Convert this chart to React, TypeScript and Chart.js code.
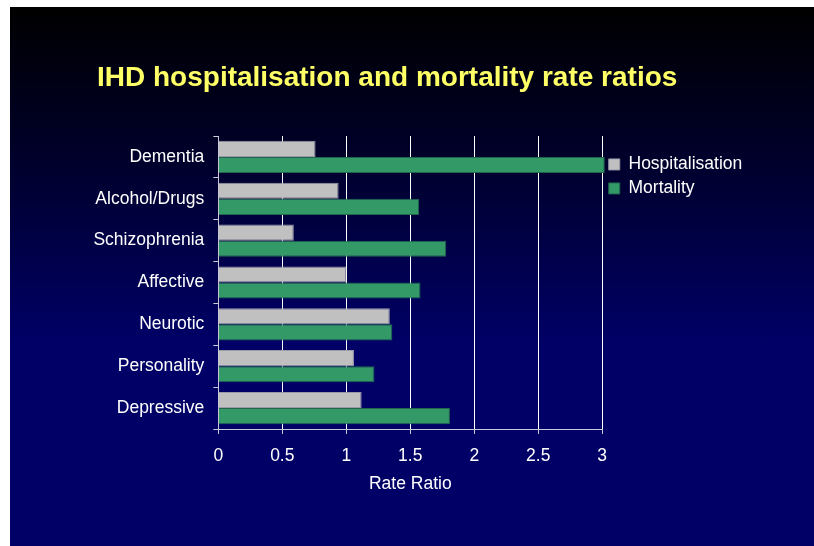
import React, { useEffect, useRef } from "react";
import { Chart, registerables } from "chart.js";

Chart.register(...registerables);

const TITLE = "IHD hospitalisation and mortality rate ratios";
const categories = [
  "Dementia",
  "Alcohol/Drugs",
  "Schizophrenia",
  "Affective",
  "Neurotic",
  "Personality",
  "Depressive",
];
const hospitalisation = [0.76, 0.94, 0.59, 1.0, 1.34, 1.06, 1.12];
const mortality = [3.02, 1.57, 1.78, 1.58, 1.36, 1.22, 1.81];
const xTicks = [0, 0.5, 1, 1.5, 2, 2.5, 3];
const xTitle = "Rate Ratio";

const FONT = "'Liberation Sans', Arial, Helvetica, sans-serif";
const FS = 17.5;

export default function App() {
  const ref = useRef<HTMLCanvasElement | null>(null);

  useEffect(() => {
    if (!ref.current) return;
    const chart = new Chart(ref.current, {
      type: "bar",
      data: {
        labels: categories,
        datasets: [
          {
            label: "Hospitalisation",
            data: hospitalisation,
            backgroundColor: "#C0C0C0",
            borderColor: "#9a9aaa",
            borderWidth: 1,
            categoryPercentage: 0.77,
            barPercentage: 1.0,
            clip: false,
          },
          {
            label: "Mortality",
            data: mortality,
            backgroundColor: "#339966",
            borderColor: "#22664f",
            borderWidth: 1,
            categoryPercentage: 0.77,
            barPercentage: 1.0,
            clip: false,
          },
        ],
      },
      options: {
        indexAxis: "y",
        responsive: false,
        animation: false,
        devicePixelRatio: 1,
        layout: { padding: { left: 0, right: 61.7, top: 129, bottom: 51.4 } },
        scales: {
          x: {
            type: "linear",
            min: 0,
            max: 3,
            afterBuildTicks: (axis: any) => {
              axis.ticks = xTicks.map((v) => ({ value: v }));
            },
            afterFit: (axis: any) => {
              axis.height = 65.6;
            },
            ticks: {
              color: "#ffffff",
              font: { family: FONT, size: FS },
              padding: 11.5,
              callback: (v: any) => String(v),
            },
            grid: {
              color: "#ffffff",
              tickColor: "#c8c8d8",
              tickLength: 5,
              lineWidth: 1,
            },
            border: { color: "#c8c8d8", width: 1 },
            title: {
              display: true,
              text: xTitle,
              color: "#ffffff",
              font: { family: FONT, size: FS },
              padding: { top: 4, bottom: 0 },
            },
          },
          y: {
            type: "category",
            afterFit: (axis: any) => {
              axis.width = 208.3;
            },
            ticks: {
              color: "#ffffff",
              font: { family: FONT, size: FS },
              padding: 9,
            },
            grid: {
              drawOnChartArea: false,
              color: "#c8c8d8",
              tickLength: 5,
              offset: true,
            },
            border: { color: "#c8c8d8", width: 1 },
          },
        },
        plugins: {
          title: { display: false },
          legend: {
            position: "right",
            align: "start",
            fullSize: false,
            title: {
              display: true,
              text: "",
              font: { size: 1 },
              padding: { top: 12, bottom: 0 },
            },
            labels: {
              color: "#ffffff",
              font: { family: FONT, size: FS },
              boxWidth: 11,
              boxHeight: 11,
              padding: 6.5,
            },
          },
          tooltip: { enabled: false },
        },
      },
    });
    return () => chart.destroy();
  }, []);

  return (
    <div
      style={{
        position: "absolute",
        left: 10,
        top: 7,
        width: 804,
        height: 539,
        background:
          "linear-gradient(to bottom, #000000 0%, #00002e 30%, #000066 62%, #000066 100%)",
      }}
    >
      <div
        style={{
          position: "absolute",
          left: 87,
          top: 56,
          margin: 0,
          fontFamily: FONT,
          fontWeight: "bold",
          fontSize: 28,
          lineHeight: "28px",
          color: "#FFFF66",
          whiteSpace: "nowrap",
        }}
      >
        {TITLE}
      </div>
      <canvas ref={ref} width={804} height={539} style={{ width: 804, height: 539, display: "block" }} />
    </div>
  );
}
